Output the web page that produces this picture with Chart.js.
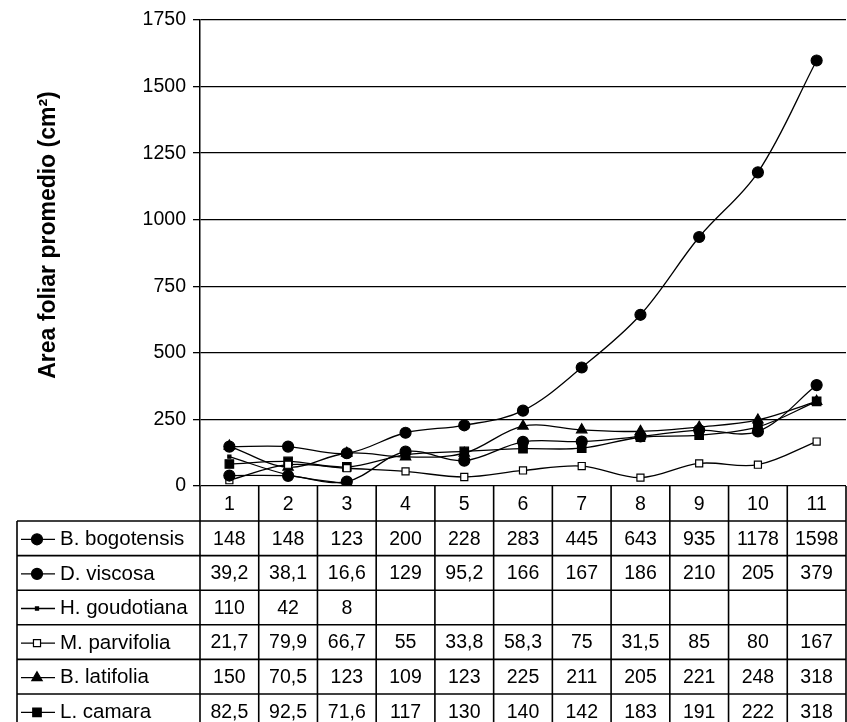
<!DOCTYPE html>
<html>
<head>
<meta charset="utf-8">
<script src="https://cdn.jsdelivr.net/npm/chart.js@4.4.0/dist/chart.umd.min.js"></script>
<style>
html, body { margin: 0; padding: 0; background: #fff; overflow: hidden; }
</style>
</head>
<body>
<canvas id="myChart" width="847" height="722"></canvas>
<script>
// datos
const semanas = ['1', '2', '3', '4', '5', '6', '7', '8', '9', '10', '11'];
const especies = ['B. bogotensis', 'D. viscosa', 'H. goudotiana', 'M. parvifolia', 'B. latifolia', 'L. camara'];
const bBogotensis = [148, 148, 123, 200, 228, 283, 445, 643, 935, 1178, 1598];
const dViscosa = [39.2, 38.1, 16.6, 129, 95.2, 166, 167, 186, 210, 205, 379];
const hGoudotiana = [110, 42, 8, null, null, null, null, null, null, null, null];
const mParvifolia = [21.7, 79.9, 66.7, 55, 33.8, 58.3, 75, 31.5, 85, 80, 167];
const bLatifolia = [150, 70.5, 123, 109, 123, 225, 211, 205, 221, 248, 318];
const lCamara = [82.5, 92.5, 71.6, 117, 130, 140, 142, 183, 191, 222, 318];
const yTicks = [0, 250, 500, 750, 1000, 1250, 1500, 1750];
const tituloY = 'Area foliar promedio (cm²)';

const valores = [bBogotensis, dViscosa, hGoudotiana, mParvifolia, bLatifolia, lCamara];
const marcadores = ['circle', 'circle', 'rect', 'rect', 'triangle', 'rect'];
const radios = [5.5, 5.5, 2.2, 5, 6, 6];
const rellenos = ['#000', '#000', '#000', '#fff', '#000', '#000'];

const FUENTE = 'Arial, "Liberation Sans", sans-serif';

function fmt(v) {
    if (v === null || v === undefined) return '';
    return String(v).replace('.', ',');
}

const datasets = especies.map((nombre, i) => ({
    label: nombre,
    data: valores[i],
    borderColor: '#000',
    borderWidth: 1.3,
    backgroundColor: rellenos[i],
    pointStyle: marcadores[i],
    pointRadius: radios[i],
    pointBorderColor: '#000',
    pointBorderWidth: 1.2,
    pointBackgroundColor: rellenos[i],
    tension: 0.35,
    spanGaps: false,
    fill: false
}));

function linea(ctx, x1, y1, x2, y2) {
    ctx.beginPath();
    ctx.moveTo(x1, y1);
    ctx.lineTo(x2, y2);
    ctx.stroke();
}

// tabla de datos bajo el grafico + titulo del eje
const tablaPlugin = {
    id: 'tabla',
    afterDraw(chart) {
        const ctx = chart.ctx;
        const x = chart.scales.x;
        const area = chart.chartArea;
        const half = (x.getPixelForValue(1) - x.getPixelForValue(0)) / 2;
        const top = area.bottom;
        const headH = 35, rowH = 34.6, labelLeft = 17;
        const bottom = chart.height;
        ctx.save();

        // titulo eje y
        ctx.save();
        ctx.translate(49, 235);
        ctx.rotate(-Math.PI / 2);
        ctx.font = 'bold 23px ' + FUENTE;
        ctx.fillStyle = '#000';
        ctx.textAlign = 'center';
        ctx.textBaseline = 'middle';
        ctx.fillText(tituloY, 0, 0);
        ctx.restore();

        ctx.strokeStyle = '#000';
        ctx.lineWidth = 1.6;
        for (let i = 0; i <= semanas.length; i++) {
            const px = i < semanas.length ? x.getPixelForValue(i) - half : x.getPixelForValue(i - 1) + half;
            linea(ctx, px, top, px, bottom);
        }
        linea(ctx, labelLeft, top + headH, labelLeft, bottom);
        for (let r = 0; r <= especies.length; r++) {
            const py = top + headH + r * rowH;
            linea(ctx, labelLeft, py, area.right, py);
        }

        ctx.fillStyle = '#000';
        ctx.font = '19.5px ' + FUENTE;
        ctx.textAlign = 'center';
        ctx.textBaseline = 'middle';
        semanas.forEach((s, i) => {
            ctx.fillText(s, x.getPixelForValue(i), top + headH / 2 + 1);
        });

        especies.forEach((nombre, r) => {
            const cy = top + headH + r * rowH + rowH / 2 + 1;
            // muestra de la leyenda
            ctx.lineWidth = 1.3;
            linea(ctx, 21, cy, 55, cy);
            ctx.fillStyle = rellenos[r];
            ctx.lineWidth = 1.2;
            Chart.helpers.drawPoint(ctx, {
                pointStyle: marcadores[r],
                radius: radios[r],
                rotation: 0,
                borderWidth: 1.2
            }, 37, cy);
            ctx.fillStyle = '#000';
            ctx.textAlign = 'left';
            ctx.font = '20.5px ' + FUENTE;
            ctx.fillText(nombre, 60, cy);
            ctx.textAlign = 'center';
            ctx.font = '19.5px ' + FUENTE;
            valores[r].forEach((v, i) => {
                ctx.fillText(fmt(v), x.getPixelForValue(i), cy);
            });
        });
        ctx.restore();
    }
};

const ctx = document.getElementById('myChart').getContext('2d');
const myChart = new Chart(ctx, {
    type: 'line',
    data: {
        labels: semanas,
        datasets: datasets
    },
    options: {
        responsive: false,
        animation: false,
        layout: { autoPadding: false, padding: { top: 20, bottom: 236, left: 0, right: 1 } },
        plugins: {
            legend: { display: false },
            tooltip: { enabled: false }
        },
        scales: {
            x: {
                display: false,
                offset: true
            },
            y: {
                min: 0,
                max: 1750,
                afterFit(scale) { scale.width = 200; },
                afterBuildTicks(scale) { scale.ticks = yTicks.map(v => ({ value: v })); },
                ticks: {
                    color: '#000',
                    padding: 7,
                    font: { family: FUENTE, size: 19.5 },
                    callback: v => String(v)
                },
                grid: {
                    color: '#000',
                    lineWidth: 1.3,
                    tickLength: 7,
                    drawTicks: true
                },
                border: { display: true, color: '#000', width: 1.5 },
                title: { display: false }
            }
        }
    },
    plugins: [tablaPlugin]
});
</script>
</body>
</html>
